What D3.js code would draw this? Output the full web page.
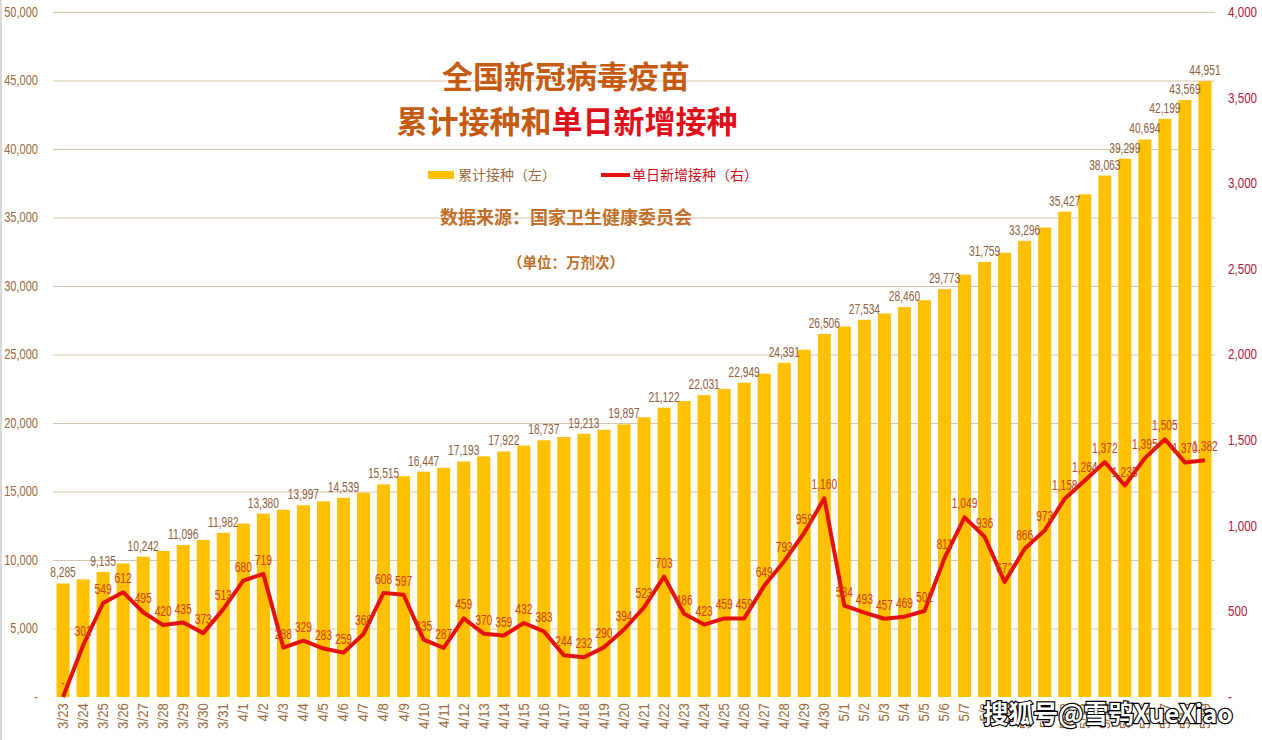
<!DOCTYPE html>
<html><head><meta charset="utf-8">
<script src="https://cdn.jsdelivr.net/npm/d3@7/dist/d3.min.js"></script>
<style>
html,body{margin:0;padding:0;background:#fff;}
svg{display:block;}
</style></head>
<body>
<svg id="chart" width="1262" height="740"></svg>
<script>
const dates = ["3/23","3/24","3/25","3/26","3/27","3/28","3/29","3/30","3/31",
"4/1","4/2","4/3","4/4","4/5","4/6","4/7","4/8","4/9","4/10","4/11","4/12","4/13","4/14","4/15","4/16","4/17","4/18","4/19","4/20","4/21","4/22","4/23","4/24","4/25","4/26","4/27","4/28","4/29","4/30",
"5/1","5/2","5/3","5/4","5/5","5/6","5/7","5/8","5/9","5/10","5/11","5/12","5/13","5/14","5/15","5/16","5/17","5/18","5/19"];
const cumulative = [8285,8586,9135,9747,10242,10662,11096,11469,11982,
12662,13380,13668,13997,14280,14539,14907,15515,16112,16447,16734,17193,17563,17922,18354,18737,18981,19213,19503,19897,20420,21122,21608,22031,22490,22949,23598,24391,25350,26506,
27040,27534,27991,28460,28962,29773,30822,31759,32431,33296,34269,35427,36691,38063,39299,40694,42199,43569,44951];
const daily = [0,301,549,612,495,420,435,373,513,
680,719,288,329,283,259,368,608,597,335,287,459,370,359,432,383,244,232,290,394,523,703,486,423,459,459,649,793,959,1160,
534,493,457,469,502,811,1049,936,672,866,973,1158,1264,1372,1235,1395,1505,1370,1382];
const labeledBars = ["3/23","3/25","3/27","3/29","3/31","4/2","4/4","4/6","4/8","4/10","4/12","4/14","4/16","4/18","4/20","4/22","4/24","4/26","4/28","4/30","5/2","5/4","5/6","5/8","5/10","5/12","5/14","5/15","5/16","5/17","5/18","5/19"];
const leftTicks = [0,5000,10000,15000,20000,25000,30000,35000,40000,45000,50000];
const rightTicks = [0,500,1000,1500,2000,2500,3000,3500,4000];

const svg = d3.select("#chart");
const W = 1262, H = 740;
const m = {left:53, right:47, top:12, bottom:43};
const x0 = m.left, x1 = W - m.right, yTop = m.top, yBot = H - m.bottom;

const x = d3.scaleBand().domain(dates).range([x0, x1]).paddingInner(0.35).paddingOuter(0.175);
const yL = d3.scaleLinear().domain([0,50000]).range([yBot, yTop]);
const yR = d3.scaleLinear().domain([0,4000]).range([yBot, yTop]);

const sans = "'Liberation Sans',Arial,sans-serif";
const cjk = "'Noto Sans CJK SC','Microsoft YaHei',sans-serif";
const fmt = v => v === 0 ? "-" : d3.format(",")(v);

// condense text glyphs horizontally (narrow font look)
function condense(sel, f){
  sel.each(function(){
    const len = this.getComputedTextLength();
    if (len > 0) {
      d3.select(this).attr("textLength", len*f).attr("lengthAdjust","spacingAndGlyphs");
    }
  });
}

// left border
svg.append("line").attr("x1",1).attr("x2",1).attr("y1",0).attr("y2",H)
  .attr("stroke","#d9d9d9").attr("stroke-width",2);

// gridlines
svg.append("g").selectAll("line").data(leftTicks.filter(d=>d>0)).join("line")
  .attr("x1",x0).attr("x2",x1).attr("y1",d=>yL(d)+0.5).attr("y2",d=>yL(d)+0.5)
  .attr("stroke","#d6c6ad").attr("stroke-width",1);

// left axis
const gL = svg.append("g").attr("transform",`translate(${x0},0)`)
  .call(d3.axisLeft(yL).tickValues(leftTicks).tickFormat(fmt).tickSize(0).tickPadding(15));
gL.select(".domain").remove();
gL.selectAll("text").attr("fill","#9c6a3c").style("font-family",sans).style("font-size","14px");
condense(gL.selectAll("text"), 0.79);

// right axis
const gR = svg.append("g").attr("transform",`translate(${x1},0)`)
  .call(d3.axisRight(yR).tickValues(rightTicks).tickFormat(fmt).tickSize(0).tickPadding(13));
gR.select(".domain").remove();
gR.selectAll("text").attr("fill","#b0203a").style("font-family",sans).style("font-size","14px");
condense(gR.selectAll("text"), 0.83);

// bars
svg.append("g").selectAll("rect").data(dates).join("rect")
  .attr("x",d=>x(d)).attr("width",x.bandwidth())
  .attr("y",(d,i)=>yL(cumulative[i])).attr("height",(d,i)=>yBot-yL(cumulative[i]))
  .attr("fill","#ffc000");

// x axis labels
const gX = svg.append("g").attr("transform",`translate(0,${yBot})`)
  .call(d3.axisBottom(x).tickSize(0).tickPadding(0));
gX.select(".domain").remove();
gX.selectAll("text")
  .attr("transform","rotate(-90)")
  .attr("x",-6).attr("y",0).attr("dy","0.35em")
  .attr("text-anchor","end")
  .attr("fill","#9c6a3c").style("font-family",sans).style("font-size","14px");
condense(gX.selectAll("text"), 0.95);

// bar labels
const bl = svg.append("g").selectAll("text").data(dates.filter(d=>labeledBars.includes(d))).join("text")
  .attr("x",d=>x(d)+x.bandwidth()/2)
  .attr("y",d=>yL(cumulative[dates.indexOf(d)])-6)
  .attr("text-anchor","middle")
  .attr("fill","#8f6040").style("font-family",sans).style("font-size","14px")
  .text(d=>fmt(cumulative[dates.indexOf(d)]));
condense(bl, 0.73);

// line
const line = d3.line().x((d,i)=>x(dates[i])+x.bandwidth()/2).y(d=>yR(d));
svg.append("path").datum(daily).attr("d",line)
  .attr("fill","none").attr("stroke","#e3120b").attr("stroke-width",4).attr("stroke-linejoin","round");

// line labels
const ll = svg.append("g").selectAll("text").data(daily).join("text")
  .attr("x",(d,i)=>x(dates[i])+x.bandwidth()/2)
  .attr("y",d=>yR(d)-9)
  .attr("text-anchor","middle")
  .attr("fill","#c8401a").style("font-family",sans).style("font-size","14px")
  .text(d=>fmt(d));
condense(ll, 0.73);

// titles
const title = svg.append("g").style("font-family",cjk).style("font-weight","bold");
title.append("text").attr("x",566).attr("y",88).attr("text-anchor","middle")
  .attr("fill","#c55a11").style("font-size","31px").text("全国新冠病毒疫苗");
const t2 = title.append("text").attr("x",567).attr("y",133).attr("text-anchor","middle").style("font-size","31px");
t2.append("tspan").attr("fill","#c55a11").text("累计接种和");
t2.append("tspan").attr("fill","#e0101a").text("单日新增接种");
title.append("text").attr("x",566).attr("y",224).attr("text-anchor","middle")
  .attr("fill","#c0702a").style("font-size","18px").text("数据来源：国家卫生健康委员会");
title.append("text").attr("x",566).attr("y",268).attr("text-anchor","middle")
  .attr("fill","#c0702a").style("font-size","14.5px").text("（单位：万剂次）");

// legend
const lg = svg.append("g").style("font-family",cjk).style("font-size","14px");
lg.append("rect").attr("x",428).attr("y",171).attr("width",26).attr("height",8).attr("fill","#ffc000");
lg.append("text").attr("x",458).attr("y",180).attr("fill","#9c6a3c").text("累计接种（左）");
lg.append("line").attr("x1",601).attr("x2",630).attr("y1",175).attr("y2",175).attr("stroke","#e3120b").attr("stroke-width",4);
lg.append("text").attr("x",632).attr("y",180).attr("fill","#c8101a").text("单日新增接种（右）");

// watermark
svg.append("text").attr("x",1233).attr("y",723).attr("text-anchor","end")
  .style("font-family",cjk).style("font-size","25px").style("font-weight","bold")
  .attr("fill","#ffffff").attr("stroke","#000").attr("stroke-width",2.4).attr("paint-order","stroke")
  .text("搜狐号@雪鸮XueXiao");
</script>
</body></html>
